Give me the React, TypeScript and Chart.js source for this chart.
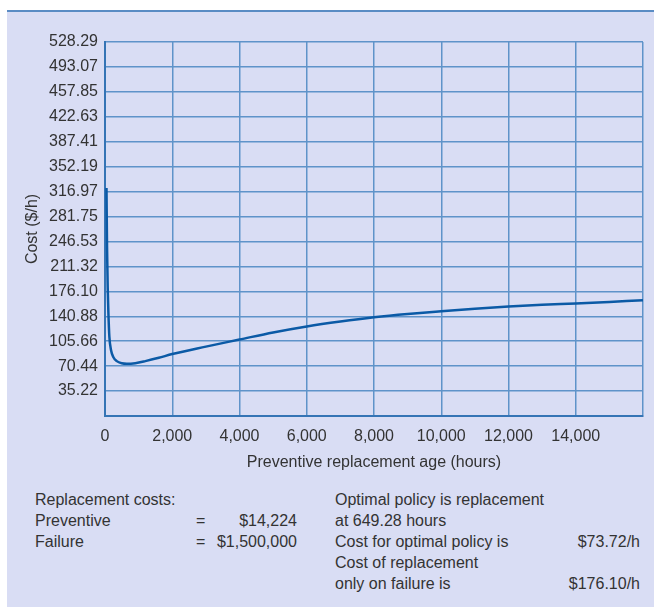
import React, { useEffect, useRef } from "react";
import { Chart, registerables } from "chart.js";

Chart.register(...registerables);

// Preventive replacement age (hours)
const ageHours = [44, 60, 80, 100, 130, 180, 250, 350, 500, 650, 900, 1200, 1600, 2000, 3000, 4000, 5000, 6000, 7000, 8000, 9000, 10000, 11000, 12000, 13000, 14000, 15000, 16000];
// Cost ($/h)
const costPerHour = [322, 240, 182, 147, 112, 93, 83, 77.5, 74.4, 73.72, 74.6, 77.5, 82.2, 87.5, 98, 108, 118, 126.5, 133.5, 139.5, 144.2, 148, 151.5, 154.6, 157, 159, 161.2, 163.4];

const xTickValues = [0, 2000, 4000, 6000, 8000, 10000, 12000, 14000, 16000];
const xTickLabels = ["0", "2,000", "4,000", "6,000", "8,000", "10,000", "12,000", "14,000", ""];
const yTickValues = [0, 35.22, 70.44, 105.66, 140.88, 176.1, 211.32, 246.53, 281.75, 316.97, 352.19, 387.41, 422.63, 457.85, 493.07, 528.29];
const yTickLabels = ["", "35.22", "70.44", "105.66", "140.88", "176.10", "211.32", "246.53", "281.75", "316.97", "352.19", "387.41", "422.63", "457.85", "493.07", "528.29"];

const FONT = "'Liberation Sans', Arial, Helvetica, sans-serif";
const TEXT = "#333333";
const GRID = "#5f93c9";
const BORDER = "#3574b5";
const BG = "#d9ddf4";

export default function App() {
  const ref = useRef<HTMLCanvasElement | null>(null);

  useEffect(() => {
    document.body.style.margin = "0";
    const canvas = ref.current;
    if (!canvas) return;
    const chart = new Chart(canvas, {
      type: "line",
      data: {
        datasets: [
          {
            data: ageHours.map((x, i) => ({ x, y: costPerHour[i] })),
            borderColor: "#0b5aa6",
            borderWidth: 2.5,
            pointRadius: 0,
            fill: false,
            cubicInterpolationMode: "monotone",
          },
        ],
      },
      options: {
        animation: false,
        responsive: false,
        devicePixelRatio: 1,
        layout: { padding: { top: 30, right: 7, left: 0, bottom: 0 } },
        plugins: { legend: { display: false }, tooltip: { enabled: false } },
        scales: {
          x: {
            type: "linear",
            min: 0,
            max: 16000,
            afterBuildTicks: (s: any) => {
              s.ticks = xTickValues.map((v) => ({ value: v }));
            },
            afterFit: (s: any) => {
              s.height = 56;
            },
            ticks: {
              padding: 11,
              color: TEXT,
              font: { family: FONT, size: 16 },
              maxRotation: 0,
              autoSkip: false,
              callback: (v: any) => {
                const i = xTickValues.indexOf(Number(v));
                return i >= 0 ? xTickLabels[i] : "";
              },
            },
            grid: { color: GRID, lineWidth: 1.5, drawTicks: false },
            border: { display: true, color: BORDER, width: 2 },
            title: {
              display: true,
              text: "Preventive replacement age (hours)",
              color: TEXT,
              font: { family: FONT, size: 16 },
              padding: { top: 0, bottom: 0 },
            },
          },
          y: {
            type: "linear",
            min: 0,
            max: 528.29,
            afterBuildTicks: (s: any) => {
              s.ticks = yTickValues.map((v) => ({ value: v }));
            },
            afterFit: (s: any) => {
              s.width = 98;
            },
            ticks: {
              padding: 7,
              color: TEXT,
              font: { family: FONT, size: 16 },
              autoSkip: false,
              callback: (v: any) => {
                const i = yTickValues.indexOf(Number(v));
                return i >= 0 ? yTickLabels[i] : "";
              },
            },
            grid: { color: GRID, lineWidth: 1.5, drawTicks: false },
            border: { display: true, color: BORDER, width: 2 },
            title: {
              display: true,
              text: "Cost ($/h)",
              color: TEXT,
              font: { family: FONT, size: 16 },
              padding: { top: 16, bottom: 0 },
            },
          },
        },
      },
    });
    return () => chart.destroy();
  }, []);

  const txt: React.CSSProperties = {
    position: "absolute",
    fontFamily: FONT,
    fontSize: 16,
    color: TEXT,
    lineHeight: "21px",
    whiteSpace: "nowrap",
  };
  const rowTop = (r: number) => 489 + r * 21;

  return (
    <div style={{ position: "relative", width: 654, height: 607, background: "#ffffff", overflow: "hidden" }}>
      <div style={{ position: "absolute", left: 7, top: 10, width: 647, height: 2, background: "#5a8cc4" }} />
      <div style={{ position: "absolute", left: 7, top: 12, width: 647, height: 595, background: BG }} />
      <canvas ref={ref} width={647} height={460} style={{ position: "absolute", left: 7, top: 12, width: 647, height: 460 }} />

      <div style={{ ...txt, left: 35, top: rowTop(0) }}>Replacement costs:</div>
      <div style={{ ...txt, left: 35, top: rowTop(1) }}>Preventive</div>
      <div style={{ ...txt, left: 35, top: rowTop(2) }}>Failure</div>
      <div style={{ ...txt, left: 196, top: rowTop(1) }}>=</div>
      <div style={{ ...txt, left: 196, top: rowTop(2) }}>=</div>
      <div style={{ ...txt, right: 654 - 297, top: rowTop(1), textAlign: "right" }}>$14,224</div>
      <div style={{ ...txt, right: 654 - 297, top: rowTop(2), textAlign: "right" }}>$1,500,000</div>

      <div style={{ ...txt, left: 335, top: rowTop(0) }}>Optimal policy is replacement</div>
      <div style={{ ...txt, left: 335, top: rowTop(1) }}>at 649.28 hours</div>
      <div style={{ ...txt, left: 335, top: rowTop(2) }}>Cost for optimal policy is</div>
      <div style={{ ...txt, left: 335, top: rowTop(3) }}>Cost of replacement</div>
      <div style={{ ...txt, left: 335, top: rowTop(4) }}>only on failure is</div>
      <div style={{ ...txt, right: 654 - 640, top: rowTop(2), textAlign: "right" }}>$73.72/h</div>
      <div style={{ ...txt, right: 654 - 640, top: rowTop(4), textAlign: "right" }}>$176.10/h</div>
    </div>
  );
}
